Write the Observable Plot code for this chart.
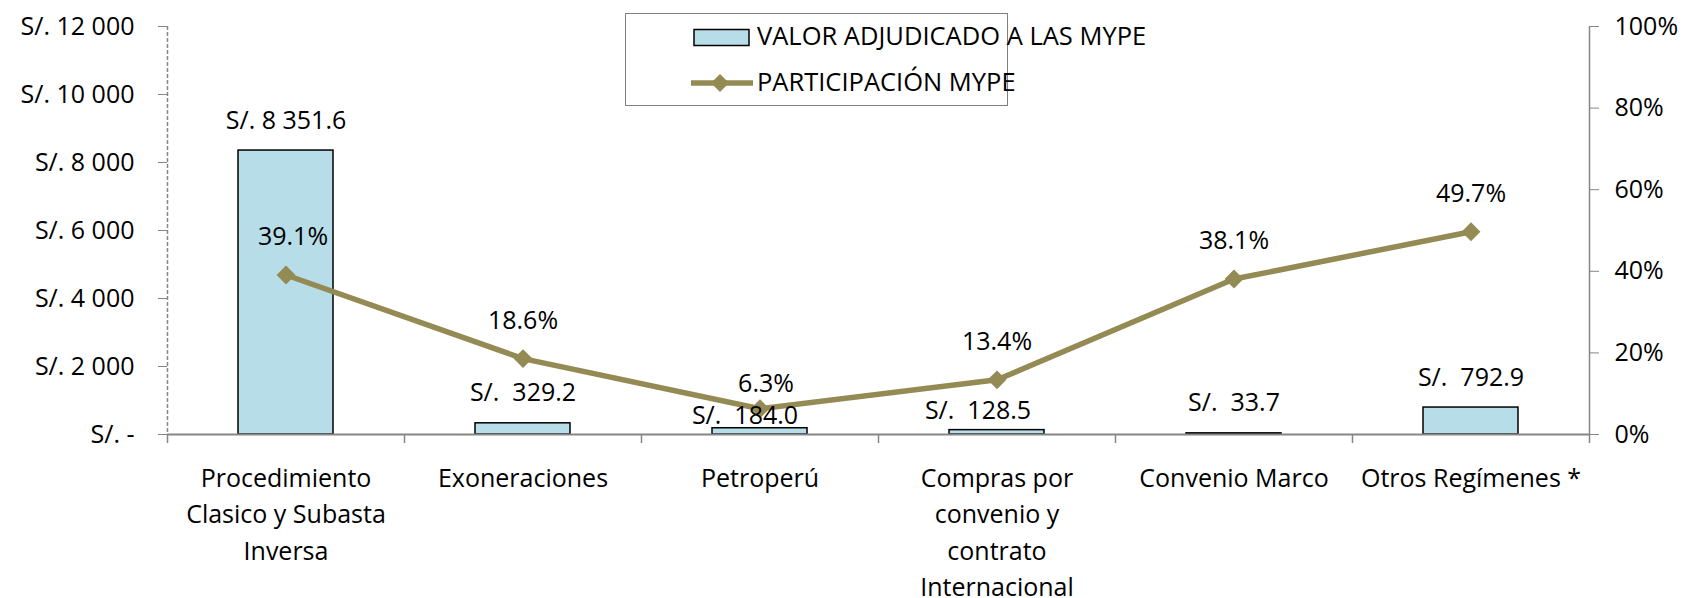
<!DOCTYPE html>
<html><head><meta charset="utf-8">
<script src="https://cdn.jsdelivr.net/npm/d3@7"></script>
<script src="https://cdn.jsdelivr.net/npm/@observablehq/plot@0.6"></script>
<style>
body{margin:0;background:#fff;}
#wrap{position:relative;width:1685px;height:598px;font-family:'Open Sans',sans-serif;font-size:25px;color:#000;}
#legend{position:absolute;left:625px;top:13px;width:381px;height:91px;border:1.5px solid #808080;background:#fff;box-sizing:content-box;}
#legend svg{position:absolute;left:0;top:0;}
#legend .lt{position:absolute;left:131px;height:30px;line-height:30px;white-space:nowrap;font-size:25.5px;}
</style></head>
<body><div id="wrap"><div id="chart"></div><div id="legend"></div></div>
<script>
const categories = ["Procedimiento\nClasico y Subasta\nInversa","Exoneraciones","Petroperú","Compras por\nconvenio y\ncontrato\nInternacional","Convenio Marco","Otros Regímenes *"];
const valorAdjudicado = [8351.6, 329.2, 184.0, 128.5, 33.7, 792.9];
const participacion = [39.1, 18.6, 6.3, 13.4, 38.1, 49.7];
const leftTicks = [0, 2000, 4000, 6000, 8000, 10000, 12000];
const rightTicks = [0, 20, 40, 60, 80, 100];
const seriesNames = ["VALOR ADJUDICADO A LAS MYPE", "PARTICIPACIÓN MYPE"];
// manual label nudges as in the original
const valueLabelNudgeX = [0, 0, -15, -19, 0, 0];
const valueLabelNudgeY = [0, 0, 18, 11, 0, 0];
const pctLabelNudgeX = [7, 0, 6, 0, 0, 0];
const pctLabelNudgeY = [0, 0, 13, 0, 0, 0];

const W = 1685, H = 598, mL = 167, mR = 96, mT = 26, mB = 164;
const leftMax = 12000, rightMax = 100;
const step = (W - mL - mR) / categories.length;
const barFill = "#b7dde8", lineColor = "#948a54", axisGray = "#868686";

const rows = categories.map((c, i) => ({
  cat: c, val: valorAdjudicado[i], pct: participacion[i],
  yPct: participacion[i] / rightMax * leftMax,
  vdx: valueLabelNudgeX[i], vdy: valueLabelNudgeY[i],
  pdx: pctLabelNudgeX[i], pdy: pctLabelNudgeY[i]
}));

const spaceThousands = v => d3.format(",.0f")(v).replace(/,/g, " ");
const money = v => v >= 1000 ? "S/. " + d3.format(",.1f")(v).replace(/,/g, " ") : "S/.\u00a0 " + d3.format(".1f")(v);

const marks = [
  Plot.barY(rows, {x: "cat", y: "val", fill: barFill, stroke: "#000", strokeWidth: 1.5}),
  Plot.ruleY([0], {stroke: axisGray, strokeWidth: 2}),
  Plot.ruleX([categories[0]], {dx: -step / 2, stroke: axisGray, strokeWidth: 1.5, strokeDasharray: "4,2"}),
  Plot.ruleX([categories[categories.length - 1]], {dx: step / 2, stroke: axisGray, strokeWidth: 1.5}),
  Plot.ruleX(categories, {dx: -step / 2, y1: 0, y2: 0, insetBottom: -9, stroke: axisGray, strokeWidth: 1.5}),
  Plot.ruleX([categories[categories.length - 1]], {dx: step / 2, y1: 0, y2: 0, insetBottom: -9, stroke: axisGray, strokeWidth: 1.5}),
  Plot.axisY({anchor: "left", ticks: leftTicks, tickSize: 9, tickPadding: 24, stroke: axisGray, fill: "#000", label: null,
    tickFormat: d => d === 0 ? "S/. -" : "S/. " + spaceThousands(d)}),
  Plot.axisY({anchor: "right", ticks: rightTicks.map(p => p / rightMax * leftMax), tickSize: 9, tickPadding: 16, stroke: axisGray, fill: "#000", label: null,
    tickFormat: d => Math.round(d / leftMax * rightMax) + "%"}),
  Plot.axisX({tickSize: 0, tickPadding: 27, lineHeight: 1.45, fill: "#000", label: null, tickFormat: d => d}),
  Plot.line(rows, {x: "cat", y: "yPct", stroke: lineColor, strokeWidth: 5.5}),
  Plot.dot(rows, {x: "cat", y: "yPct", symbol: "diamond2", r: 8.5, fill: lineColor, stroke: "none"})
];

// text marks with per-label nudges
rows.forEach(r => {
  marks.push(Plot.text([r], {x: "cat", y: "val", text: d => money(d.val), dx: r.vdx, dy: -30 + r.vdy, lineAnchor: "middle", fill: "#000"}));
  marks.push(Plot.text([r], {x: "cat", y: "yPct", text: d => d.pct.toFixed(1) + "%", dx: r.pdx, dy: -38 + r.pdy, lineAnchor: "middle", fill: "#000"}));
});

const chart = Plot.plot({
  width: W, height: H,
  marginLeft: mL, marginRight: mR, marginTop: mT, marginBottom: mB,
  style: {fontFamily: "'Open Sans', sans-serif", fontSize: "25px", background: "#fff", color: "#000", overflow: "visible"},
  x: {type: "band", domain: categories, paddingInner: 0.6, paddingOuter: 0.3, label: null},
  y: {domain: [0, leftMax], label: null},
  marks
});
document.getElementById("chart").appendChild(chart);

// legend
const lg = document.getElementById("legend");
const ns = "http://www.w3.org/2000/svg";
const svg = document.createElementNS(ns, "svg");
svg.setAttribute("width", 381); svg.setAttribute("height", 91);
svg.innerHTML =
  `<rect x="68" y="15.5" width="55" height="16" fill="${barFill}" stroke="#000" stroke-width="1.5"/>` +
  `<line x1="65" y1="69" x2="127" y2="69" stroke="${lineColor}" stroke-width="5.5"/>` +
  `<path d="M94 60 L103 69 L94 78 L85 69 Z" fill="${lineColor}"/>`;
lg.appendChild(svg);
seriesNames.forEach((n, i) => {
  const s = document.createElement("div");
  s.className = "lt"; s.textContent = n; s.style.top = (i === 0 ? 6 : 52) + "px";
  lg.appendChild(s);
});
</script></body></html>
